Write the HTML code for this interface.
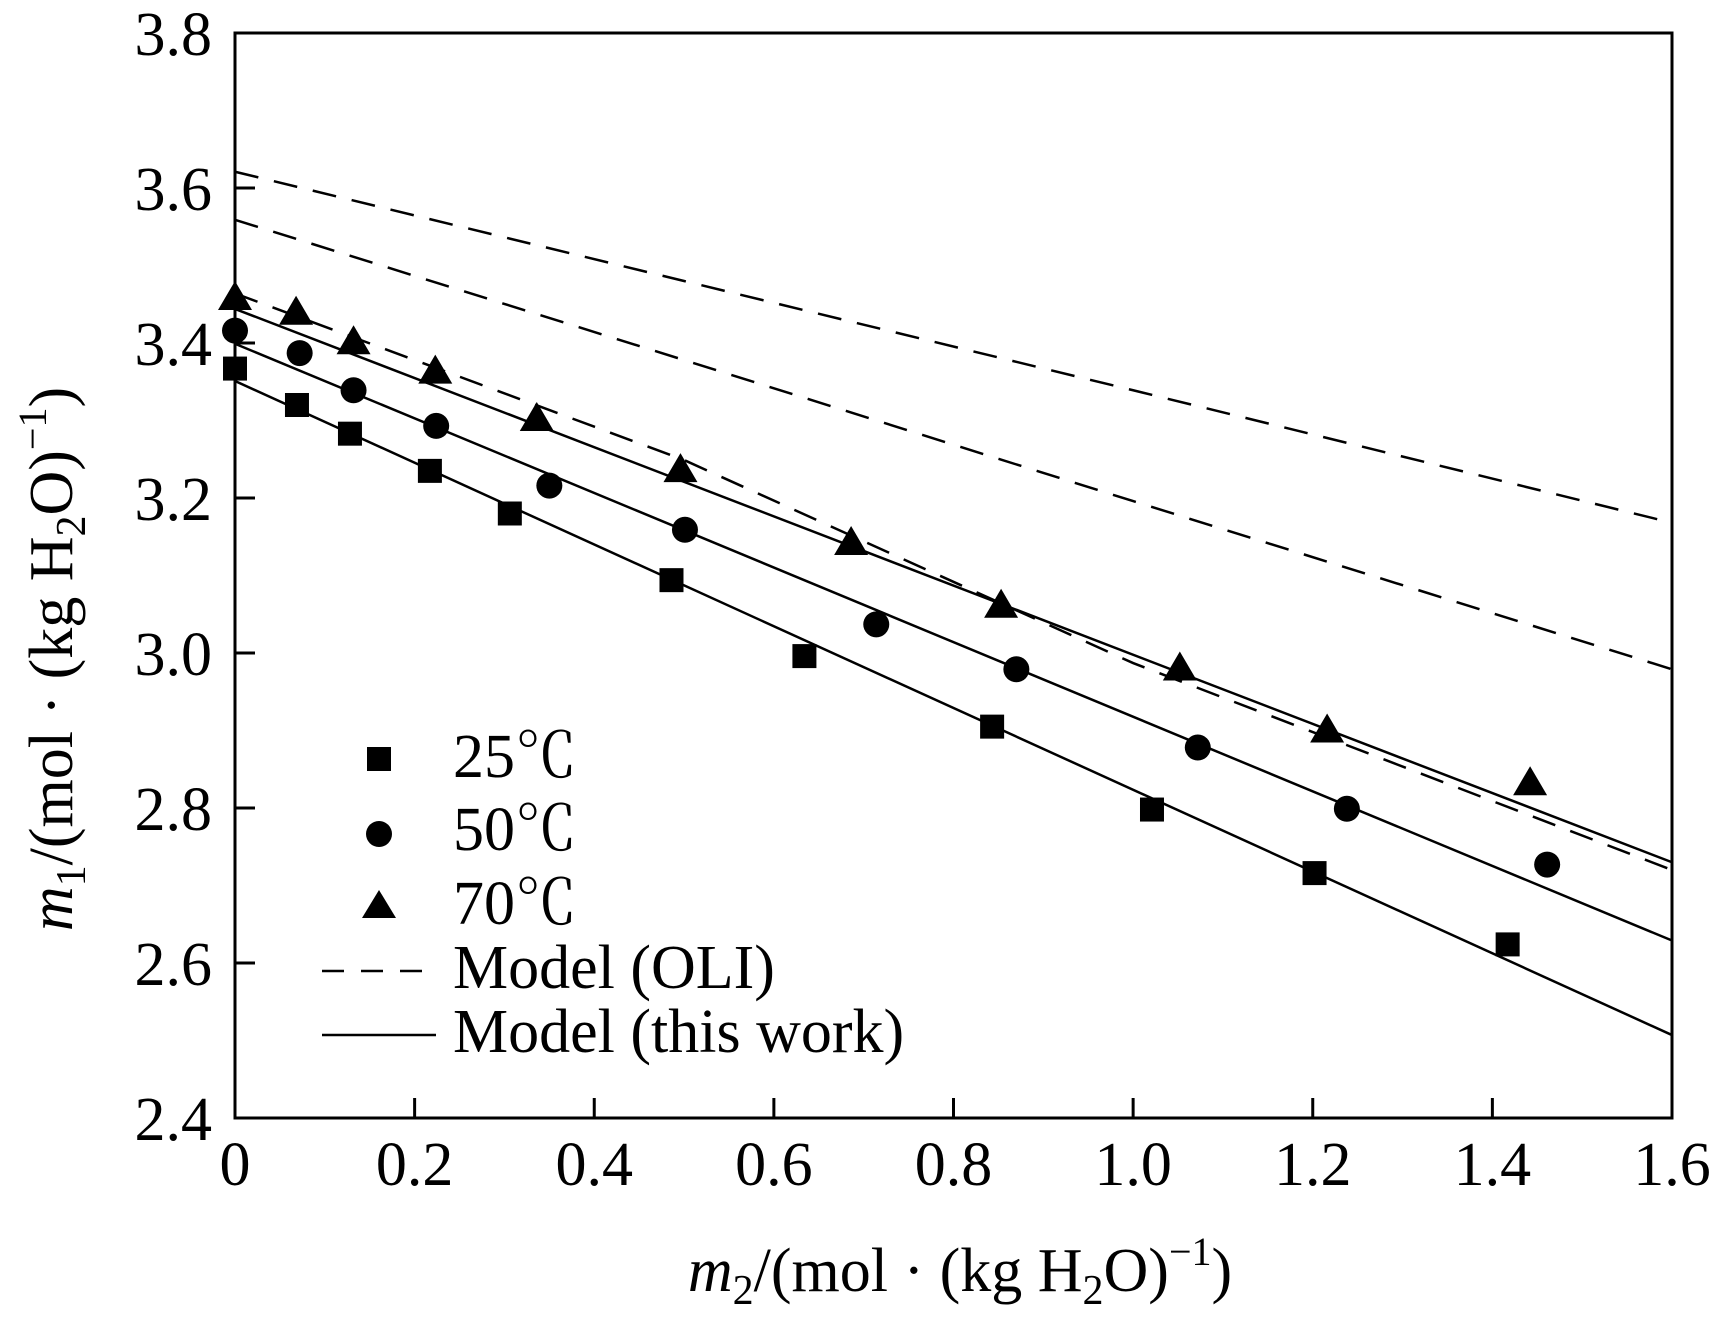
<!DOCTYPE html>
<html><head><meta charset="utf-8">
<style>
html,body{margin:0;padding:0;background:#fff;}
svg{display:block;font-family:"Liberation Serif","Noto Serif CJK SC",serif;}
</style></head>
<body>
<svg id="chart" width="1715" height="1321" viewBox="0 0 1715 1321" xmlns="http://www.w3.org/2000/svg">
<g id="plot"></g>
<text x="960" y="1291" font-size="62" text-anchor="middle"><tspan font-style="italic">m</tspan><tspan font-size="42" dy="13">2</tspan><tspan dy="-13">/(mol · (kg H</tspan><tspan font-size="42" dy="13">2</tspan><tspan dy="-13">O)</tspan><tspan font-size="40" dy="-26">−1</tspan><tspan dy="26">)</tspan></text>
<text transform="translate(72,659) rotate(-90)" font-size="62" text-anchor="middle"><tspan font-style="italic">m</tspan><tspan font-size="42" dy="13">1</tspan><tspan dy="-13">/(mol · (kg H</tspan><tspan font-size="42" dy="13">2</tspan><tspan dy="-13">O)</tspan><tspan font-size="40" dy="-26">−1</tspan><tspan dy="26">)</tspan></text>
<g>
  <rect x="367" y="747" width="24" height="24" fill="#000"/>
  <text x="453" y="777" font-size="62">25℃</text>
  <circle cx="379" cy="834" r="13" fill="#000"/>
  <text x="453" y="850" font-size="62">50℃</text>
  <polygon points="379,890 362,918 396,918" fill="#000"/>
  <text x="453" y="924" font-size="62">70℃</text>
  <line x1="322" y1="971" x2="436" y2="971" stroke="#000" stroke-width="2.5" stroke-dasharray="22,17"/>
  <text x="453" y="988" font-size="62">Model (OLI)</text>
  <line x1="322" y1="1035" x2="436" y2="1035" stroke="#000" stroke-width="2.5"/>
  <text x="453" y="1052" font-size="62">Model (this work)</text>
</g>
</svg>
<script>
const xTicks = [0, 0.2, 0.4, 0.6, 0.8, 1.0, 1.2, 1.4, 1.6];
const xTickLabels = ["0", "0.2", "0.4", "0.6", "0.8", "1.0", "1.2", "1.4", "1.6"];
const yTicks = [2.4, 2.6, 2.8, 3.0, 3.2, 3.4, 3.6, 3.8];
const yTickLabels = ["2.4", "2.6", "2.8", "3.0", "3.2", "3.4", "3.6", "3.8"];

const sq25X = [0, 0.069, 0.128, 0.217, 0.306, 0.486, 0.634, 0.843, 1.021, 1.202, 1.417];
const sq25Y = [3.367, 3.32, 3.283, 3.235, 3.18, 3.094, 2.996, 2.905, 2.798, 2.716, 2.624];
const ci50X = [0, 0.072, 0.132, 0.224, 0.35, 0.501, 0.714, 0.870, 1.072, 1.238, 1.461];
const ci50Y = [3.416, 3.387, 3.339, 3.293, 3.216, 3.159, 3.037, 2.979, 2.878, 2.799, 2.727];
const tr70X = [0, 0.068, 0.132, 0.223, 0.336, 0.496, 0.686, 0.853, 1.052, 1.216, 1.442];
const tr70Y = [3.458, 3.439, 3.401, 3.363, 3.302, 3.236, 3.142, 3.061, 2.98, 2.9, 2.832];

const fitX = [0, 1.6];
const fit25Y = [3.351, 2.507];
const fit50Y = [3.399, 2.629];
const fit70Y = [3.444, 2.730];

const oliX = [0, 0.5, 1.0, 1.6];
const oli1Y = [3.621, 3.480, 3.339, 3.168];
const oli2Y = [3.559, 3.378, 3.196, 2.979];
const oli3Y = [3.464, 3.249, 2.987, 2.720];

const X0 = 235, X1 = 1672, Y0 = 1118, Y1 = 33;
const xMin = 0, xMax = 1.6, yMin = 2.4, yMax = 3.8;
function sx(v){ return X0 + (v - xMin) / (xMax - xMin) * (X1 - X0); }
function sy(v){ return Y0 - (v - yMin) / (yMax - yMin) * (Y0 - Y1); }

const NS = "http://www.w3.org/2000/svg";
const plot = document.getElementById('plot');
function mk(tag, attrs){
  const e = document.createElementNS(NS, tag);
  for (const k in attrs) e.setAttribute(k, attrs[k]);
  plot.appendChild(e);
  return e;
}

let frame = mk('rect', {x: X0, y: Y1, width: X1 - X0, height: Y0 - Y1, fill: 'none', stroke: '#000', 'stroke-width': 3});



xTicks.forEach((t, i) => {
  const x = sx(t);
  if (i > 0 && i < xTicks.length - 1) {
    const tk = mk('line', {x1: x, y1: Y0, x2: x, y2: Y0 - 20, stroke: '#000', 'stroke-width': 3});
    
    
  }
  const lb = mk('text', {x: x, y: 1185, 'font-size': 62, 'text-anchor': 'middle'});
  lb.textContent = xTickLabels[i];
  
  
});
yTicks.forEach((t, i) => {
  const y = sy(t);
  if (i > 0 && i < yTicks.length - 1) {
    const tk = mk('line', {x1: X0, y1: y, x2: X0 + 20, y2: y, stroke: '#000', 'stroke-width': 3});
    
    
  }
  const lb = mk('text', {x: 212, y: y + 22, 'font-size': 62, 'text-anchor': 'end'});
  lb.textContent = yTickLabels[i];
  
  
});

function path(xs, ys){ return xs.map((v, i) => (i ? 'L' : 'M') + sx(v) + ',' + sy(ys[i])).join(' '); }

[[oli1Y, 'oli-line-1'], [oli2Y, 'oli-line-2'], [oli3Y, 'oli-line-3']].forEach(([ys, n]) => {
  const p = mk('path', {d: path(oliX, ys), fill: 'none', stroke: '#000', 'stroke-width': 2.5, 'stroke-dasharray': '24,16'});
  
  
});
[[fit25Y, 'fit-line-25c'], [fit50Y, 'fit-line-50c'], [fit70Y, 'fit-line-70c']].forEach(([ys, n]) => {
  const p = mk('path', {d: path(fitX, ys), fill: 'none', stroke: '#000', 'stroke-width': 2.5});
  
  
});

sq25X.forEach((v, i) => {
  const r = mk('rect', {x: sx(v) - 12, y: sy(sq25Y[i]) - 12, width: 24, height: 24, fill: '#000'});
  
  
});
ci50X.forEach((v, i) => {
  const c = mk('circle', {cx: sx(v), cy: sy(ci50Y[i]), r: 13, fill: '#000'});
  
  
});
tr70X.forEach((v, i) => {
  const x = sx(v), y = sy(tr70Y[i]);
  const t = mk('polygon', {points: `${x},${y - 17} ${x - 17},${y + 12} ${x + 17},${y + 12}`, fill: '#000'});
  
  
});
</script>
</body></html>
